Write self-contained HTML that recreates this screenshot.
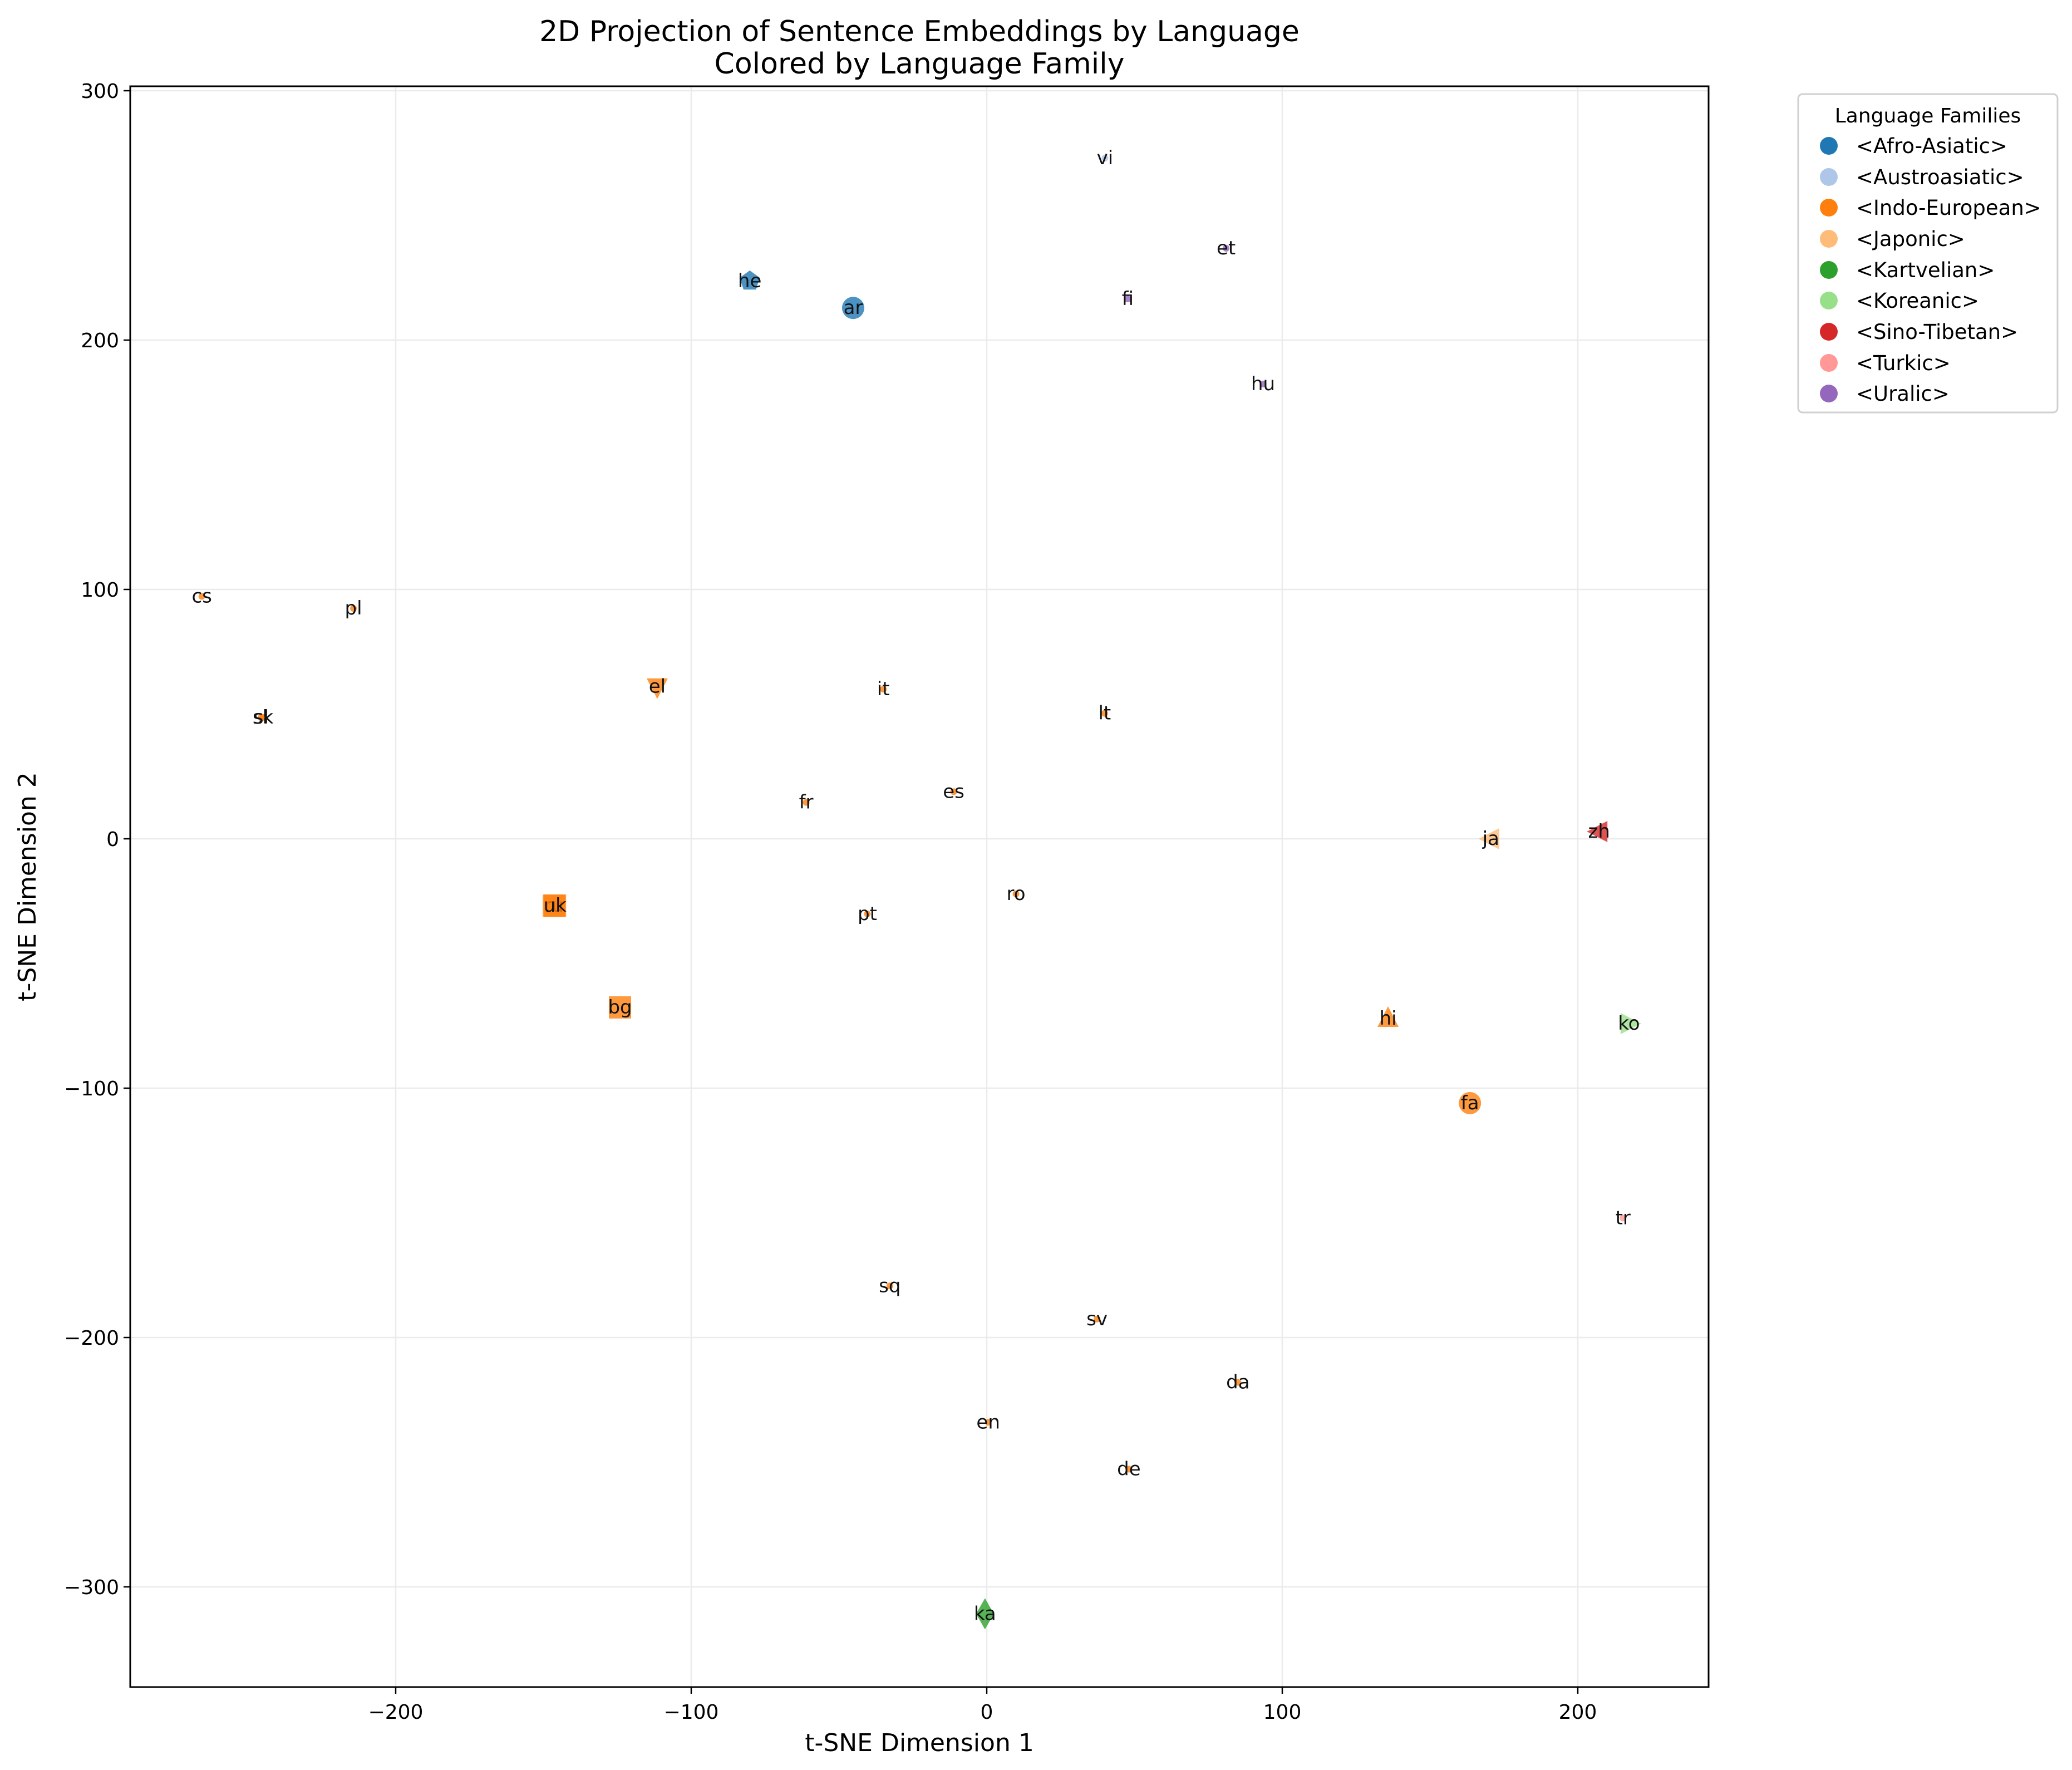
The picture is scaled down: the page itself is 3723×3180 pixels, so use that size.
<!DOCTYPE html>
<html><head><meta charset="utf-8"><style>
html,body{margin:0;padding:0;background:#fff;}
svg{display:block;font-family:"DejaVu Sans","Liberation Sans",sans-serif;}
</style></head><body>
<svg id="chart" width="3723" height="3180" viewBox="0 0 3723 3180" xmlns="http://www.w3.org/2000/svg"></svg>
<script>
const langs = ["vi","et","fi","hu","he","ar","cs","pl","sk","sl","el","it","lt","es","fr","ja","zh","ru","uk","pt","ro","bg","hi","ko","fa","tr","sq","sv","da","en","de","ka"];
const xs = [40,81,47.7,93.5,-80.2,-45.2,-265.6,-214.3,-244.9,-245.5,-111.5,-35,39.9,-11.2,-61.1,170.6,207.2,-146.5,-146.1,-40.4,9.9,-124.1,135.8,217.3,163.5,215.3,-32.8,37.3,85,0.5,48.1,-0.6];
const ys = [273,236.8,216.5,182.4,223.7,212.9,97.2,92.4,48.7,48.7,61,60,50.3,18.9,14.6,0,2.9,-26.8,-26.8,-30.1,-22.1,-67.6,-72.1,-74.1,-106,-152.1,-179.3,-192.6,-218,-234,-252.8,-310.8];
const families = ["Austroasiatic","Uralic","Uralic","Uralic","Afro-Asiatic","Afro-Asiatic","Indo-European","Indo-European","Indo-European","Indo-European","Indo-European","Indo-European","Indo-European","Indo-European","Indo-European","Japonic","Sino-Tibetan","Indo-European","Indo-European","Indo-European","Indo-European","Indo-European","Indo-European","Koreanic","Indo-European","Turkic","Indo-European","Indo-European","Indo-European","Indo-European","Indo-European","Kartvelian"];
const markers = ["dot","dot","dot","dot","pentagon","circle","dot","dot","dot","dot","tridown","dot","dot","dot","dot","trileft","trileft","square","square","dot","dot","square","triup","triright","circle","dot","dot","dot","dot","dot","dot","diamond"];
const legendNames = ["Afro-Asiatic","Austroasiatic","Indo-European","Japonic","Kartvelian","Koreanic","Sino-Tibetan","Turkic","Uralic"];
const legendColors = ["#1f77b4","#aec7e8","#ff7f0e","#ffbb78","#2ca02c","#98df8a","#d62728","#ff9896","#9467bd"];
const xTicks = [-200,-100,0,100,200];
const yTicks = [300,200,100,0,-100,-200,-300];

const svg = document.getElementById('chart');
const NS = "http://www.w3.org/2000/svg";
const L=234,R=3070,T=155,B=3031;
const X0=1773, XS=5.31, Y0=1507, YS=4.48;
const sx = v => X0 + v*XS;
const sy = v => Y0 - v*YS;
function mk(tag, attrs, parent){const e=document.createElementNS(NS,tag);for(const k in attrs)e.setAttribute(k,attrs[k]);(parent||svg).appendChild(e);return e;}

xTicks.forEach(t=>{const g=mk('line',{x1:sx(t),x2:sx(t),y1:T,y2:B,stroke:'#ebebeb','stroke-width':2.5});

});
yTicks.forEach(t=>{const g=mk('line',{x1:L,x2:R,y1:sy(t),y2:sy(t),stroke:'#ebebeb','stroke-width':2.5});

});

function color(f){return legendColors[legendNames.indexOf(f)];}
langs.forEach((l,i)=>{
  const cx=sx(xs[i]), cy=sy(ys[i]), c=color(families[i]); const m=markers[i];
  let e;
  if(m==='circle') e=mk('circle',{cx:cx,cy:cy,r:20});
  else if(m==='dot') e=mk('circle',{cx:cx,cy:cy,r:6});
  else if(m==='square') e=mk('rect',{x:cx-20,y:cy-20,width:40,height:40});
  else if(m==='diamond') e=mk('polygon',{points:`${cx},${cy-28} ${cx+16},${cy} ${cx},${cy+28} ${cx-16},${cy}`});
  else if(m==='pentagon'){let p=[];for(let k=0;k<5;k++){const a=-Math.PI/2+k*2*Math.PI/5;p.push((cx+19*Math.cos(a))+','+(cy+19*Math.sin(a)));}e=mk('polygon',{points:p.join(' ')});}
  else if(m==='triup') e=mk('polygon',{points:`${cx},${cy-22} ${cx+19},${cy+15} ${cx-19},${cy+15}`});
  else if(m==='tridown') e=mk('polygon',{points:`${cx},${cy+22} ${cx+19},${cy-15} ${cx-19},${cy-15}`});
  else if(m==='trileft') e=mk('polygon',{points:`${cx-22},${cy} ${cx+15},${cy-19} ${cx+15},${cy+19}`});
  else e=mk('polygon',{points:`${cx+22},${cy} ${cx-15},${cy-19} ${cx-15},${cy+19}`});
  e.setAttribute('fill',c); e.setAttribute('fill-opacity','0.8');
  
  
  const t=mk('text',{x:cx,y:cy+11,'text-anchor':'middle','font-size':34,fill:'#111'});
  t.textContent=l;
  
  
});

const fr=mk('rect',{x:L,y:T,width:R-L,height:B-T,fill:'none',stroke:'#000','stroke-width':3});



xTicks.forEach(t=>{mk('line',{x1:sx(t),x2:sx(t),y1:B,y2:B+12,stroke:'#000','stroke-width':2.5});
const tx=mk('text',{x:sx(t),y:B+57,'text-anchor':'middle','font-size':36,fill:'#000'});
tx.textContent=(t<0?'\u2212'+(-t):t);

});
yTicks.forEach(t=>{mk('line',{x1:L-12,x2:L,y1:sy(t),y2:sy(t),stroke:'#000','stroke-width':2.5});
const tx=mk('text',{x:L-20,y:sy(t)+13,'text-anchor':'end','font-size':36,fill:'#000'});
tx.textContent=(t<0?'\u2212'+(-t):t);

});
</script>
<svg style="position:absolute;left:0;top:0" width="3723" height="3180">
<text x="1652" y="74" text-anchor="middle" font-size="52" font-family="DejaVu Sans, Liberation Sans, sans-serif">2D Projection of Sentence Embeddings by Language</text>
<text x="1652" y="132" text-anchor="middle" font-size="52" font-family="DejaVu Sans, Liberation Sans, sans-serif">Colored by Language Family</text>
<text x="1652" y="3146" text-anchor="middle" font-size="44" font-family="DejaVu Sans, Liberation Sans, sans-serif">t-SNE Dimension 1</text>
<text transform="translate(64,1593) rotate(-90)" text-anchor="middle" font-size="44" font-family="DejaVu Sans, Liberation Sans, sans-serif">t-SNE Dimension 2</text>
<g font-family="DejaVu Sans, Liberation Sans, sans-serif" font-size="37">
<rect x="3231" y="169" width="466" height="572" rx="8" fill="#fff" stroke="#d0d0d0" stroke-width="3"/>
<text x="3464" y="220" text-anchor="middle" font-size="36">Language Families</text>
<g><circle cx="3286" cy="262" r="16" fill="#1f77b4"/><text x="3335" y="275">&lt;Afro-Asiatic&gt;</text></g>
<g><circle cx="3286" cy="318" r="16" fill="#aec7e8"/><text x="3335" y="331">&lt;Austroasiatic&gt;</text></g>
<g><circle cx="3286" cy="373" r="16" fill="#ff7f0e"/><text x="3335" y="386">&lt;Indo-European&gt;</text></g>
<g><circle cx="3286" cy="429" r="16" fill="#ffbb78"/><text x="3335" y="442">&lt;Japonic&gt;</text></g>
<g><circle cx="3286" cy="485" r="16" fill="#2ca02c"/><text x="3335" y="498">&lt;Kartvelian&gt;</text></g>
<g><circle cx="3286" cy="540" r="16" fill="#98df8a"/><text x="3335" y="553">&lt;Koreanic&gt;</text></g>
<g><circle cx="3286" cy="596" r="16" fill="#d62728"/><text x="3335" y="609">&lt;Sino-Tibetan&gt;</text></g>
<g><circle cx="3286" cy="652" r="16" fill="#ff9896"/><text x="3335" y="665">&lt;Turkic&gt;</text></g>
<g><circle cx="3286" cy="707" r="16" fill="#9467bd"/><text x="3335" y="720">&lt;Uralic&gt;</text></g>
</g>
</svg>
</body></html>
